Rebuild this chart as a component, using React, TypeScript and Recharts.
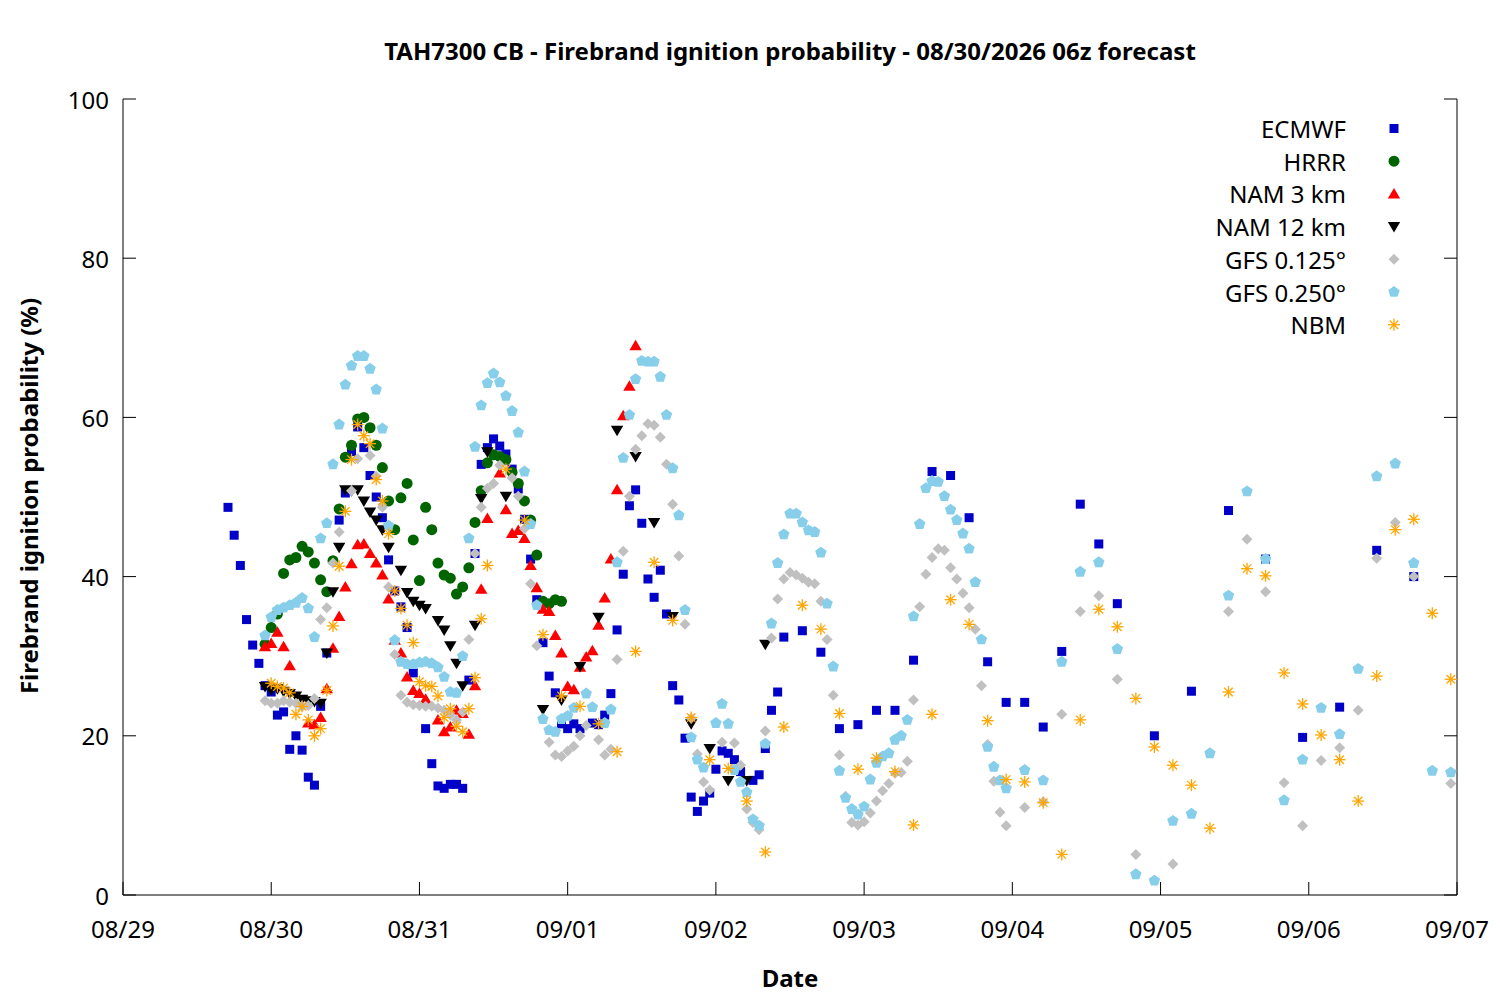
import { ScatterChart, Scatter, XAxis, YAxis } from "recharts"

type Pt = [number, number]

// hours since 08/29 00
const DATE_TICKS = [0, 24, 48, 72, 96, 120, 144, 168, 192, 216]
const DATE_LABELS = ["08/29", "08/30", "08/31", "09/01", "09/02", "09/03", "09/04", "09/05", "09/06", "09/07"]
const PROB_TICKS = [0, 20, 40, 60, 80, 100]

const ECMWF: Pt[] = [
  [17, 48.7], [18, 45.2], [19, 41.4], [20, 34.6], [21, 31.4], [22, 29.1], [23, 26.3], [24, 25.5],
  [25, 22.6], [26, 23.0], [27, 18.3], [28, 20.0], [29, 18.2], [30, 14.8], [31, 13.8], [32, 23.7],
  [33, 30.4], [35, 47.1], [36, 50.5], [37, 55.7], [38, 58.8], [39, 56.2], [40, 52.7], [41, 50.0],
  [42, 47.4], [43, 42.1], [44, 38.2], [45, 36.2], [46, 33.6], [47, 27.9], [49, 20.9], [50, 16.5],
  [51, 13.7], [52, 13.4], [53, 13.9], [54, 13.9], [55, 13.4], [56, 27.0], [57, 42.9], [58, 54.1],
  [59, 56.2], [60, 57.3], [61, 56.4], [62, 55.4], [63, 53.5], [64, 51.0], [65, 47.2], [66, 42.2],
  [67, 37.1], [68, 31.7], [69, 27.5], [70, 25.4], [71, 21.5], [72, 20.9], [73, 21.5], [74, 20.9],
  [76, 21.6], [77, 21.4], [78, 22.6], [79, 25.3], [80, 33.3], [81, 40.3], [82, 48.9], [83, 50.9],
  [84, 46.7], [85, 39.7], [86, 37.4], [87, 40.8], [88, 35.3], [89, 26.3], [90, 24.5], [91, 19.7],
  [92, 12.3], [93, 10.5], [94, 11.8], [95, 12.8], [96, 15.8], [97, 18.1], [98, 17.8], [99, 17.0],
  [100, 15.5], [102, 14.4], [103, 15.1], [104, 18.4], [105, 23.2], [106, 25.5], [107, 32.4],
  [110, 33.2], [113, 30.5], [116, 20.9], [119, 21.4], [122, 23.2], [125, 23.2], [128, 29.5],
  [131, 53.2], [134, 52.7], [137, 47.4], [140, 29.3], [143, 24.2], [146, 24.2], [149, 21.1],
  [152, 30.6], [155, 49.1], [158, 44.1], [161, 36.6], [167, 20.0], [173, 25.6], [179, 48.3],
  [185, 42.2], [191, 19.8], [197, 23.6], [203, 43.3], [209, 40.0],
]

const HRRR: Pt[] = [
  [23, 31.5], [24, 33.6], [25, 35.3], [26, 40.4], [27, 42.1], [28, 42.4], [29, 43.8], [30, 43.1],
  [31, 41.7], [32, 39.6], [33, 38.1], [34, 42.0], [35, 48.5], [36, 55.0], [37, 56.5], [38, 59.8],
  [39, 60.0], [40, 58.7], [41, 56.5], [42, 53.7], [43, 49.5], [44, 45.9], [45, 49.9], [46, 51.7],
  [47, 44.6], [48, 39.5], [49, 48.7], [50, 45.9], [51, 41.7], [52, 40.2], [53, 39.8], [54, 37.8],
  [55, 38.7], [56, 41.1], [57, 46.8], [58, 50.8], [59, 54.3], [60, 55.3], [61, 55.1], [62, 54.7],
  [63, 53.1], [64, 51.7], [65, 49.5], [66, 47.1], [67, 42.7], [68, 36.9], [69, 36.6], [70, 37.1],
  [71, 36.9],
]

const NAM3: Pt[] = [
  [23, 31.2], [24, 31.6], [25, 33.0], [26, 31.2], [27, 28.8], [30, 21.6], [31, 21.4], [32, 22.3],
  [33, 25.9], [34, 31.0], [35, 35.0], [36, 38.7], [37, 41.6], [38, 44.0], [39, 44.1], [40, 42.9],
  [41, 41.7], [42, 40.2], [43, 37.2], [44, 32.0], [45, 30.4], [46, 27.4], [47, 25.7], [48, 25.3],
  [49, 24.6], [51, 22.0], [52, 20.5], [53, 21.1], [54, 23.2], [55, 22.8], [56, 20.2], [57, 26.3],
  [58, 38.4], [59, 47.3], [61, 53.0], [62, 48.4], [63, 45.4], [64, 45.8], [65, 44.8], [66, 41.4],
  [67, 38.6], [68, 35.9], [69, 35.6], [70, 32.6], [71, 30.4], [72, 26.2], [73, 25.8], [74, 28.6],
  [75, 29.9], [76, 30.7], [77, 33.9], [78, 37.3], [79, 42.2], [80, 50.9], [81, 60.2], [82, 63.9],
  [83, 69.0],
]

const NAM12: Pt[] = [
  [23, 26.2], [24, 25.8], [25, 25.9], [26, 25.6], [27, 25.3], [28, 25.0], [29, 24.6], [30, 24.4],
  [31, 24.3], [32, 24.1], [33, 30.4], [34, 38.1], [35, 43.7], [36, 50.9], [37, 50.8], [38, 50.9],
  [39, 49.5], [40, 48.1], [41, 47.1], [42, 45.9], [43, 43.7], [45, 40.8], [46, 38.0], [47, 36.9],
  [48, 36.4], [49, 36.0], [51, 34.5], [52, 33.3], [53, 31.3], [54, 29.1], [55, 26.3], [57, 33.9],
  [58, 49.8], [59, 55.7], [62, 50.1], [68, 23.3], [71, 24.5], [74, 28.7], [77, 34.9], [80, 58.4],
  [83, 55.1], [86, 46.8], [89, 35.0], [92, 21.5], [95, 18.4], [98, 14.4], [101, 14.4], [104, 31.5],
]

const GFS125: Pt[] = [
  [23, 24.4], [24, 24.1], [25, 24.1], [26, 24.4], [27, 24.2], [28, 24.1], [29, 23.7], [30, 23.8],
  [31, 24.7], [32, 34.6], [33, 36.1], [34, 41.7], [35, 45.6], [37, 50.8], [38, 54.8], [40, 55.2],
  [41, 52.6], [42, 48.7], [43, 38.7], [44, 30.2], [45, 25.1], [46, 24.2], [47, 23.9], [48, 23.8],
  [49, 23.7], [50, 23.7], [51, 23.5], [52, 23.2], [53, 22.6], [54, 22.0], [55, 23.0], [56, 32.1],
  [57, 42.9], [58, 48.7], [59, 51.1], [60, 51.7], [61, 54.0], [63, 52.4], [64, 50.1], [65, 46.0],
  [66, 39.1], [67, 31.3], [69, 19.2], [70, 17.6], [71, 17.4], [72, 18.1], [73, 18.7], [74, 20.0],
  [75, 21.3], [77, 19.5], [78, 17.6], [79, 18.3], [80, 29.6], [81, 43.2], [82, 50.1], [83, 56.0],
  [84, 57.7], [85, 59.2], [86, 59.0], [87, 57.5], [88, 54.1], [89, 49.1], [90, 42.6], [91, 34.0],
  [92, 22.2], [93, 17.7], [94, 14.2], [95, 13.2], [97, 19.2], [99, 19.1], [100, 16.3], [101, 10.8],
  [102, 9.1], [103, 8.2], [104, 20.6], [105, 32.3], [106, 37.2], [107, 39.7], [108, 40.5],
  [109, 40.2], [110, 39.8], [111, 39.3], [112, 39.1], [113, 36.9], [114, 32.1], [115, 25.1],
  [116, 17.6], [117, 12.4], [118, 9.1], [119, 8.8], [120, 9.2], [121, 10.3], [122, 11.8],
  [123, 13.1], [124, 14.0], [125, 15.3], [126, 15.4], [127, 16.8], [128, 24.5], [129, 36.2],
  [130, 40.3], [131, 42.4], [132, 43.5], [133, 43.3], [134, 41.1], [135, 39.7], [136, 37.9],
  [137, 36.1], [138, 33.4], [139, 26.3], [140, 18.9], [141, 14.3], [142, 10.4], [143, 8.7],
  [146, 11.0], [149, 11.7], [152, 22.7], [155, 35.6], [158, 37.6], [161, 27.1], [164, 5.1],
  [170, 3.9], [179, 35.6], [182, 44.7], [185, 38.1], [188, 14.1], [191, 8.7], [194, 16.9],
  [197, 18.5], [200, 23.2], [203, 42.3], [206, 46.8], [209, 40.0], [215, 14.0],
]

const GFS250: Pt[] = [
  [23, 32.6], [24, 34.9], [25, 35.8], [26, 36.1], [27, 36.4], [28, 36.7], [29, 37.3], [30, 36.0],
  [31, 32.4], [32, 44.8], [33, 46.7], [34, 54.1], [35, 59.1], [36, 64.1], [37, 66.5], [38, 67.7],
  [39, 67.7], [40, 66.1], [41, 63.5], [42, 58.6], [43, 46.4], [44, 32.0], [45, 29.3], [46, 29.0],
  [47, 29.0], [48, 29.2], [49, 29.3], [50, 29.1], [51, 28.6], [52, 27.4], [53, 25.5], [54, 25.4],
  [55, 30.0], [56, 44.8], [57, 56.3], [58, 61.5], [59, 64.3], [60, 65.5], [61, 64.4], [62, 62.7],
  [63, 60.8], [64, 58.1], [65, 53.2], [66, 46.6], [67, 36.4], [68, 22.1], [69, 20.7], [70, 20.5],
  [71, 22.1], [72, 22.5], [73, 23.5], [75, 25.3], [76, 23.6], [78, 21.6], [79, 23.3], [80, 41.8],
  [81, 54.9], [82, 60.3], [83, 64.8], [84, 67.1], [85, 67.0], [86, 67.0], [87, 65.1], [88, 60.3],
  [89, 53.6], [90, 47.7], [91, 35.8], [92, 19.8], [93, 17.0], [94, 16.0], [96, 21.6], [97, 24.0],
  [98, 21.5], [99, 15.7], [100, 14.2], [101, 12.9], [102, 9.5], [103, 8.7], [104, 19.0],
  [105, 34.1], [106, 41.7], [107, 45.3], [108, 47.9], [109, 47.9], [110, 46.8], [111, 45.8],
  [112, 45.6], [113, 43.0], [114, 36.6], [115, 28.7], [116, 15.6], [117, 12.2], [118, 10.8],
  [119, 10.1], [120, 11.1], [121, 14.5], [122, 16.6], [123, 17.4], [124, 17.8], [125, 19.5],
  [126, 20.0], [127, 22.0], [128, 35.0], [129, 46.6], [130, 51.1], [131, 52.0], [132, 51.9],
  [133, 50.1], [134, 48.4], [135, 47.1], [136, 45.4], [137, 43.5], [138, 39.3], [139, 32.1],
  [140, 18.6], [141, 16.1], [142, 14.4], [143, 13.4], [146, 15.7], [149, 14.4], [152, 29.3],
  [155, 40.6], [158, 41.8], [161, 30.9], [164, 2.6], [167, 1.8], [170, 9.3], [173, 10.2],
  [176, 17.8], [179, 37.6], [182, 50.7], [185, 42.2], [188, 11.9], [191, 17.0], [194, 23.5],
  [197, 20.2], [200, 28.4], [203, 52.6], [206, 54.2], [209, 41.7], [212, 15.6], [215, 15.4],
]

const NBM: Pt[] = [
  [24, 26.6], [25, 26.2], [26, 26.0], [27, 25.4], [28, 22.7], [29, 23.7], [30, 22.0], [31, 20.0],
  [32, 20.9], [33, 25.7], [34, 33.8], [35, 41.3], [36, 48.2], [37, 54.7], [38, 59.1], [39, 57.7],
  [40, 56.7], [41, 52.2], [42, 49.5], [43, 45.4], [44, 38.2], [45, 36.0], [46, 33.9], [47, 31.7],
  [48, 26.8], [49, 26.3], [50, 26.2], [51, 25.0], [52, 22.3], [53, 23.4], [54, 21.2], [55, 20.5],
  [56, 23.4], [57, 27.3], [58, 34.7], [59, 41.4], [62, 53.5], [65, 47.1], [68, 32.7], [71, 25.0],
  [74, 23.7], [77, 21.5], [80, 18.0], [83, 30.6], [86, 41.8], [89, 34.5], [92, 22.3], [95, 17.0],
  [98, 15.9], [101, 11.8], [104, 5.4], [107, 21.1], [110, 36.4], [113, 33.4], [116, 22.8],
  [119, 15.8], [122, 17.2], [125, 15.5], [128, 8.8], [131, 22.7], [134, 37.1], [137, 34.0],
  [140, 21.9], [143, 14.5], [146, 14.2], [149, 11.6], [152, 5.1], [155, 22.0], [158, 35.9],
  [161, 33.7], [164, 24.7], [167, 18.6], [170, 16.3], [173, 13.8], [176, 8.4], [179, 25.5],
  [182, 41.0], [185, 40.1], [188, 27.9], [191, 24.0], [194, 20.1], [197, 17.0], [200, 11.8],
  [203, 27.5], [206, 45.9], [209, 47.2], [212, 35.4], [215, 27.1],
]

type Kind = "square" | "circle" | "up" | "down" | "diamond" | "pentagon" | "star"

const SERIES: { name: string; pts: Pt[]; kind: Kind; color: string }[] = [
  { name: "ECMWF", pts: ECMWF, kind: "square", color: "#0000c8" },
  { name: "HRRR", pts: HRRR, kind: "circle", color: "#006400" },
  { name: "NAM 3 km", pts: NAM3, kind: "up", color: "#ff0000" },
  { name: "NAM 12 km", pts: NAM12, kind: "down", color: "#000000" },
  { name: "GFS 0.125°", pts: GFS125, kind: "diamond", color: "#c0c0c0" },
  { name: "GFS 0.250°", pts: GFS250, kind: "pentagon", color: "#87ceeb" },
  { name: "NBM", pts: NBM, kind: "star", color: "#ffa500" },
]

const FONT = "'Noto Sans', sans-serif"
const FS = 24

function marker(kind: Kind, color: string, cx: number, cy: number) {
  switch (kind) {
    case "square":
      return <rect x={cx - 4.5} y={cy - 4.5} width={9} height={9} fill={color} />
    case "circle":
      return <circle cx={cx} cy={cy} r={5.5} fill={color} />
    case "up":
      return <polygon points={`${cx},${cy - 6} ${cx - 6.2},${cy + 4.5} ${cx + 6.2},${cy + 4.5}`} fill={color} />
    case "down":
      return <polygon points={`${cx},${cy + 6} ${cx - 6.2},${cy - 4.5} ${cx + 6.2},${cy - 4.5}`} fill={color} />
    case "diamond":
      return <polygon points={`${cx},${cy - 5.5} ${cx + 5.5},${cy} ${cx},${cy + 5.5} ${cx - 5.5},${cy}`} fill={color} />
    case "pentagon": {
      const p = [0, 1, 2, 3, 4]
        .map((k) => {
          const a = ((-90 + k * 72) * Math.PI) / 180
          return `${cx + 6 * Math.cos(a)},${cy + 6 * Math.sin(a)}`
        })
        .join(" ")
      return <polygon points={p} fill={color} />
    }
    default: {
      const r = 6
      const d = r * 0.7071
      return (
        <g stroke={color} strokeWidth={1.3}>
          <line x1={cx - r} y1={cy} x2={cx + r} y2={cy} />
          <line x1={cx} y1={cy - r} x2={cx} y2={cy + r} />
          <line x1={cx - d} y1={cy - d} x2={cx + d} y2={cy + d} />
          <line x1={cx - d} y1={cy + d} x2={cx + d} y2={cy - d} />
        </g>
      )
    }
  }
}

const TICK_LEN = 13

const BottomTick = (props: any) => {
  const { x, y, payload } = props
  const label = DATE_LABELS[DATE_TICKS.indexOf(payload.value)]
  return (
    <g>
      <line x1={x} y1={y} x2={x} y2={y - TICK_LEN} stroke="#000" />
      <text x={x} y={y + 33} textAnchor="middle" dominantBaseline="central" fontSize={FS} fontFamily={FONT} fill="#000">
        {label}
      </text>
    </g>
  )
}

const TopTick = (props: any) => (
  <line x1={props.x} y1={props.y} x2={props.x} y2={props.y + TICK_LEN} stroke="#000" />
)

const LeftTick = (props: any) => {
  const { x, y, payload } = props
  return (
    <g>
      <line x1={x} y1={y} x2={x + TICK_LEN} y2={y} stroke="#000" />
      <text x={x - 14} y={y} textAnchor="end" dominantBaseline="central" fontSize={FS} fontFamily={FONT} fill="#000">
        {payload.value}
      </text>
    </g>
  )
}

const RightTick = (props: any) => (
  <line x1={props.x} y1={props.y} x2={props.x - TICK_LEN} y2={props.y} stroke="#000" />
)

export default function App() {
  return (
    <div style={{ position: "absolute", left: 0, top: 0, width: 1500, height: 1000, background: "#fff", fontFamily: FONT }}>
      <ScatterChart width={1500} height={1000} margin={{ top: 99, right: 0, bottom: 0, left: 0 }}>
        <XAxis
          xAxisId="b"
          type="number"
          dataKey="hour"
          domain={[0, 216]}
          ticks={DATE_TICKS}
          interval={0}
          height={105}
          tickSize={0}
          tickMargin={0}
          tickLine={false}
          tick={<BottomTick />}
          axisLine={{ stroke: "#000" }}
          allowDataOverflow
        />
        <XAxis
          xAxisId="t"
          orientation="top"
          type="number"
          dataKey="hour"
          domain={[0, 216]}
          ticks={DATE_TICKS}
          interval={0}
          height={0}
          tickSize={0}
          tickMargin={0}
          tickLine={false}
          tick={<TopTick />}
          axisLine={{ stroke: "#000" }}
          allowDataOverflow
        />
        <YAxis
          yAxisId="l"
          type="number"
          dataKey="prob"
          domain={[0, 100]}
          ticks={PROB_TICKS}
          interval={0}
          width={123}
          tickSize={0}
          tickMargin={0}
          tickLine={false}
          tick={<LeftTick />}
          axisLine={{ stroke: "#000" }}
          allowDataOverflow
        />
        <YAxis
          yAxisId="r"
          orientation="right"
          type="number"
          dataKey="prob"
          domain={[0, 100]}
          ticks={PROB_TICKS}
          interval={0}
          width={43}
          tickSize={0}
          tickMargin={0}
          tickLine={false}
          tick={<RightTick />}
          axisLine={{ stroke: "#000" }}
          allowDataOverflow
        />
        <Scatter xAxisId="t" yAxisId="r" data={[]} isAnimationActive={false} />
        {SERIES.map((s) => (
          <Scatter
            key={s.name}
            name={s.name}
            xAxisId="b"
            yAxisId="l"
            data={s.pts.map(([hour, prob]) => ({ hour, prob }))}
            isAnimationActive={false}
            shape={(p: any) => marker(s.kind, s.color, p.cx, p.cy)}
          />
        ))}
      </ScatterChart>

      <svg width={1500} height={1000} style={{ position: "absolute", left: 0, top: 0, pointerEvents: "none" }}>
        <text x={790} y={50} textAnchor="middle" dominantBaseline="central" fontSize={FS} fontWeight="bold" fontFamily={FONT}>
          TAH7300 CB - Firebrand ignition probability - 08/30/2026 06z forecast
        </text>
        <text x={790} y={977} textAnchor="middle" dominantBaseline="central" fontSize={FS} fontWeight="bold" fontFamily={FONT}>
          Date
        </text>
        <text
          x={28}
          y={496}
          textAnchor="middle"
          dominantBaseline="central"
          fontSize={FS}
          fontWeight="bold"
          fontFamily={FONT}
          transform="rotate(-90 28 496)"
        >
          Firebrand ignition probability (%)
        </text>
        {SERIES.map((s, i) => {
          const cy = 128.5 + i * 32.7
          return (
            <g key={s.name}>
              <text x={1346} y={cy} textAnchor="end" dominantBaseline="central" fontSize={FS} fontFamily={FONT}>
                {s.name}
              </text>
              {marker(s.kind, s.color, 1394, cy)}
            </g>
          )
        })}
      </svg>
    </div>
  )
}
